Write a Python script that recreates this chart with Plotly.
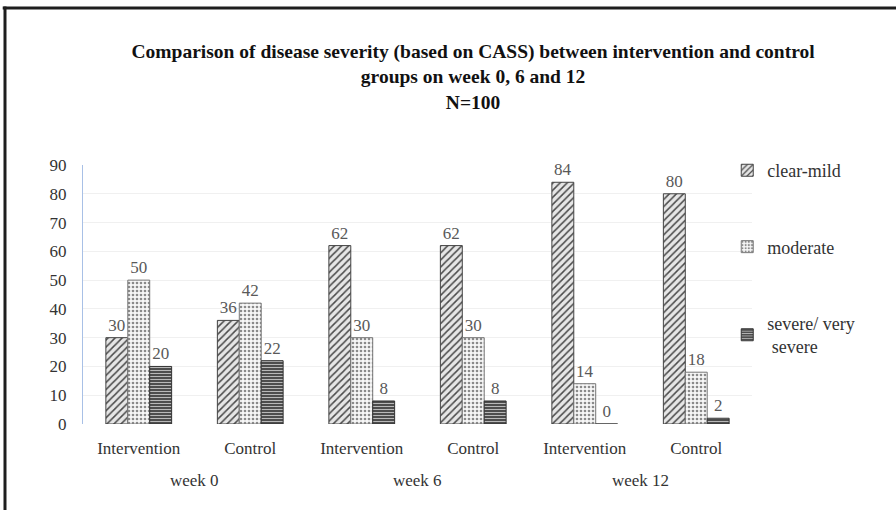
import plotly.graph_objects as go

weeks = ["week 0", "week 6", "week 12"]
groups = ["Intervention", "Control", "Intervention", "Control", "Intervention", "Control"]
clear_mild = [30, 36, 62, 62, 84, 80]
moderate = [50, 42, 30, 30, 14, 18]
severe = [20, 22, 8, 8, 0, 2]
series_names = ["clear-mild", "moderate", "severe/ very<br> severe"]
y_ticks = [0, 10, 20, 30, 40, 50, 60, 70, 80, 90]

SERIF = "Liberation Serif, Times New Roman, serif"
xpos = list(range(len(groups)))

styles = [
    dict(shape="/", fg="#4a4a4a", bg="#e6e6e6", size=5, sol=0.3, line="#444"),
    dict(shape=".", fg="#8a8a8a", bg="#f7f7f7", size=4, sol=0.35, line="#777"),
    dict(shape="-", fg="#b8b8b8", bg="#4d4d4d", size=3, sol=0.35, line="#333"),
]

fig = go.Figure()
for i, (name, vals) in enumerate(zip(series_names, [clear_mild, moderate, severe])):
    s = styles[i]
    fig.add_trace(go.Bar(
        x=xpos, y=vals, name=name,
        legendgroup=f"g{i}",
        marker=dict(color=s["bg"], line=dict(color=s["line"], width=1),
                    pattern=dict(shape=s["shape"], fgcolor=s["fg"], bgcolor=s["bg"],
                                 size=s["size"], solidity=s["sol"], fillmode="replace")),
        text=vals, textposition="outside", cliponaxis=False,
        textfont=dict(family=SERIF, size=17, color="#595959"),
    ))

# week labels centred under each pair of groups
for k, w in enumerate(weeks):
    fig.add_annotation(x=(xpos[2 * k] + xpos[2 * k + 1]) / 2, xref="x", y=-0.217, yref="paper",
                       text=w, showarrow=False, yanchor="middle",
                       font=dict(family=SERIF, size=17, color="#333"))

fig.update_layout(
    width=896, height=510,
    paper_bgcolor="white", plot_bgcolor="white",
    margin=dict(l=83, r=144, t=165, b=86),
    barmode="group", bargap=0.41, bargroupgap=0,
    title=dict(text="<b>Comparison of disease severity (based on CASS) between intervention and control<br>groups on week 0, 6 and 12<br>N=100</b>",
               x=0.528, xanchor="center", y=0.886, yanchor="top",
               font=dict(family=SERIF, size=19.5, color="#111")),
    font=dict(family=SERIF, size=17, color="#333"),
    showlegend=True,
    legend=dict(x=0.963, xanchor="left", y=1.05, yanchor="top",
                tracegroupgap=50, font=dict(family=SERIF, size=18, color="#333"),
                bgcolor="rgba(0,0,0,0)", itemwidth=30),
    shapes=[
        dict(type="line", xref="paper", yref="paper", x0=-0.1166, x1=-0.1166, y0=-0.5, y1=1.612,
             line=dict(color="#1e1e1e", width=3), layer="above"),
        dict(type="line", xref="paper", yref="paper", x0=-0.12, x1=1.3, y0=1.606, y1=1.606,
             line=dict(color="#1e1e1e", width=3), layer="above"),
    ],
)
fig.update_yaxes(range=[0, 90], tickvals=y_ticks, showgrid=True, gridcolor="#f0f0f0",
                 showline=True, linecolor="#a8c0e6", linewidth=1, zeroline=False,
                 ticks="", ticklabelstandoff=12,
                 tickfont=dict(family=SERIF, size=17, color="#333"))
fig.update_xaxes(tickvals=xpos, ticktext=groups, range=[-0.5, len(groups) - 0.5],
                 showline=False, ticks="", showgrid=False, zeroline=False,
                 ticklabelstandoff=12,
                 tickfont=dict(family=SERIF, size=17, color="#333"))

fig.write_html("out.html", config={"displayModeBar": False},
               post_script="document.body.style.margin='0';document.body.style.overflow='hidden';")
